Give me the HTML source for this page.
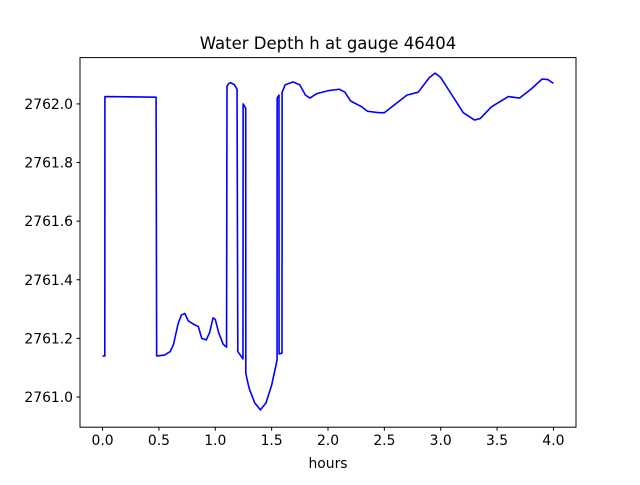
<!DOCTYPE html>
<html><head><meta charset="utf-8"><style>
body{margin:0;background:#fff;}
svg text{font-family:"DejaVu Sans","Liberation Sans",sans-serif;fill:#000;}
</style></head><body>
<svg id="chart" width="640" height="480" xmlns="http://www.w3.org/2000/svg">
<rect width="640" height="480" fill="#fff"/>
<text x="328" y="49" text-anchor="middle" font-size="16.5">Water Depth h at gauge 46404</text>
<g id="plot"></g>
<rect x="80" y="57.6" width="496" height="369.6" fill="none" stroke="#000" stroke-width="1"/>
<text x="328" y="468" text-anchor="middle" font-size="13.9">hours</text>
</svg>
<script>
const times=[0,0.02,0.021,0.475,0.48,0.55,0.6,0.63,0.67,0.7,0.73,0.76,0.8,0.85,0.88,0.92,0.95,0.98,1.0,1.03,1.07,1.1,1.104,1.12,1.14,1.17,1.193,1.2,1.246,1.247,1.27,1.271,1.3,1.35,1.4,1.45,1.5,1.548,1.549,1.565,1.566,1.592,1.593,1.62,1.69,1.75,1.8,1.84,1.9,2.0,2.1,2.15,2.2,2.3,2.35,2.45,2.5,2.6,2.7,2.8,2.9,2.95,3.0,3.1,3.2,3.3,3.35,3.45,3.6,3.7,3.8,3.9,3.95,4.0];
const depths=[2761.14,2761.14,2762.025,2762.023,2761.14,2761.143,2761.155,2761.18,2761.25,2761.28,2761.285,2761.26,2761.25,2761.24,2761.2,2761.195,2761.22,2761.27,2761.265,2761.22,2761.18,2761.17,2762.06,2762.07,2762.072,2762.065,2762.05,2761.155,2761.13,2762.0,2761.985,2761.08,2761.03,2760.98,2760.956,2760.98,2761.04,2761.126,2762.02,2762.03,2761.147,2761.15,2762.04,2762.065,2762.075,2762.065,2762.03,2762.02,2762.035,2762.045,2762.05,2762.04,2762.01,2761.99,2761.975,2761.97,2761.97,2762.0,2762.03,2762.04,2762.09,2762.105,2762.09,2762.03,2761.97,2761.945,2761.95,2761.99,2762.025,2762.02,2762.05,2762.085,2762.083,2762.07];
const xTicks=[0.0,0.5,1.0,1.5,2.0,2.5,3.0,3.5,4.0];
const yTicks=[2761.0,2761.2,2761.4,2761.6,2761.8,2762.0];
const L=80,R=576,T=57.6,B=427.2,xMin=-0.2,xMax=4.2,yMin=2760.897,yMax=2762.158;
function sx(v){return L+(v-xMin)/(xMax-xMin)*(R-L);}
function sy(v){return B-(v-yMin)/(yMax-yMin)*(B-T);}
const NS="http://www.w3.org/2000/svg";
const g=document.getElementById('plot');
function mk(tag,attrs){const e=document.createElementNS(NS,tag);for(const k in attrs)e.setAttribute(k,attrs[k]);g.appendChild(e);return e;}
xTicks.forEach(t=>{
  const x=sx(t);
  const ln=mk('line',{x1:x,x2:x,y1:B,y2:B+3.5,stroke:'#000'});
  
  
  const tx=mk('text',{x:x,y:B+18,'text-anchor':'middle','font-size':'13.9'});
  tx.textContent=t.toFixed(1);
  
  
});
yTicks.forEach(t=>{
  const y=sy(t);
  const ln=mk('line',{x1:L-3.5,x2:L,y1:y,y2:y,stroke:'#000'});
  
  
  const tx=mk('text',{x:L-7,y:y+5,'text-anchor':'end','font-size':'13.9'});
  tx.textContent=t.toFixed(1);
  
  
});
const pts=times.map((t,i)=>sx(t).toFixed(2)+','+sy(depths[i]).toFixed(2)).join(' ');
const pl=mk('polyline',{points:pts,fill:'none',stroke:'#0000ff','stroke-width':'1.6','stroke-linejoin':'round'});


</script>
</body></html>
